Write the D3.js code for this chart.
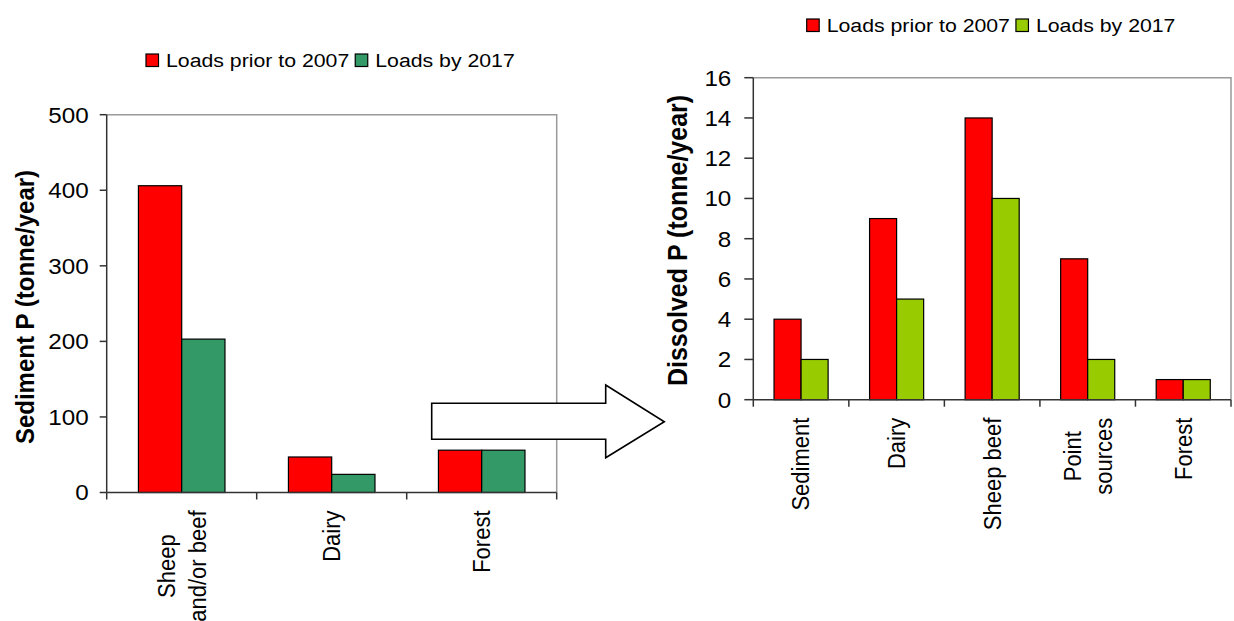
<!DOCTYPE html>
<html><head><meta charset="utf-8">
<script src="https://cdn.jsdelivr.net/npm/d3@7"></script>
<style>body{margin:0;background:#fff}svg{display:block;font-family:"Liberation Sans",Arial,sans-serif}</style>
</head><body><svg id="c" width="1234" height="621"></svg>
<script>
// ---- data ----
const seriesNames = ["Loads prior to 2007", "Loads by 2017"];
const sedCategories = [["Sheep", "and/or beef"], ["Dairy"], ["Forest"]];
const sedPrior = [406, 47, 56];
const sedBy2017 = [203, 24, 56];
const sedTicks = [0, 100, 200, 300, 400, 500];
const disCategories = [["Sediment"], ["Dairy"], ["Sheep beef"], ["Point", "sources"], ["Forest"]];
const disPrior = [4, 9, 14, 7, 1];
const disBy2017 = [2, 5, 10, 2, 1];
const disTicks = [0, 2, 4, 6, 8, 10, 12, 14, 16];

const svg = d3.select("#c");
const SX = 1.1;
const LSX = 1.12;

function drawChart(cfg) {
  const g = svg.append("g");
  const idx = d3.range(cfg.categories.length);
  const x = d3.scaleBand().domain(idx).range([cfg.left, cfg.right]).paddingInner(cfg.pad).paddingOuter(cfg.pad / 2);
  const xs = d3.scaleBand().domain([0, 1]).range([0, x.bandwidth()]);
  const y = d3.scaleLinear().domain([0, d3.max(cfg.ticks)]).range([cfg.bottom, cfg.top]);
  const step = x.step();

  // border (top/right)
  g.append("path").attr("d", `M${cfg.left},${y(d3.max(cfg.ticks))}H${cfg.right}V${cfg.bottom}`)
    .attr("fill", "none").attr("stroke", "#999").attr("stroke-width", 1.5);

  // bars
  const series = [cfg.s1, cfg.s2];
  series.forEach((vals, si) => {
    g.selectAll(null).data(vals).enter().append("rect")
      .attr("x", (d, i) => x(i) + xs(si))
      .attr("y", d => y(d))
      .attr("width", xs.bandwidth())
      .attr("height", d => y(0) - y(d))
      .attr("fill", cfg.colors[si])
      .attr("stroke", "#000").attr("stroke-width", 1.2);
  });

  // y axis
  g.append("line").attr("x1", cfg.left).attr("x2", cfg.left).attr("y1", y(d3.max(cfg.ticks))).attr("y2", cfg.bottom)
    .attr("stroke", "#333").attr("stroke-width", 1.5);
  cfg.ticks.forEach(t => {
    g.append("line").attr("x1", cfg.left - cfg.tickLen).attr("x2", cfg.left).attr("y1", y(t)).attr("y2", y(t))
      .attr("stroke", "#333").attr("stroke-width", 1.5);
    g.append("text").attr("transform", `translate(${cfg.left - cfg.labelGap},${y(t)}) scale(${SX},1)`)
      .attr("text-anchor", "end").attr("dy", "0.36em").attr("font-size", 22).attr("fill", "#000").text(t);
  });

  // x axis
  g.append("line").attr("x1", cfg.left).attr("x2", cfg.right).attr("y1", cfg.bottom).attr("y2", cfg.bottom)
    .attr("stroke", "#333").attr("stroke-width", 1.5);
  d3.range(cfg.categories.length + 1).forEach(i => {
    const xx = cfg.left + i * step;
    g.append("line").attr("x1", xx).attr("x2", xx).attr("y1", cfg.bottom).attr("y2", cfg.bottom + 7)
      .attr("stroke", "#333").attr("stroke-width", 1.5);
  });

  // category labels
  cfg.categories.forEach((lines, i) => {
    const cx = x(i) + x.bandwidth() / 2;
    const n = lines.length;
    const nodes = lines.map((ln, li) => {
      const lx = cx + (li - (n - 1) / 2) * 31;
      return g.append("text").attr("font-size", 22).attr("text-anchor", "end")
        .attr("dominant-baseline", "central").attr("fill", "#000").text(ln).datum(lx);
    });
    const lens = nodes.map(t => t.node().getComputedTextLength());
    const maxLen = d3.max(lens);
    nodes.forEach((t, li) => {
      const off = (maxLen - lens[li]) / 2;
      t.attr("transform", `translate(${t.datum()},${cfg.bottom + 18 + off}) scale(${SX},1) rotate(-90)`);
    });
  });

  // y title
  g.append("text").attr("transform", `translate(${cfg.titleX},${cfg.titleY}) scale(${SX},1) rotate(-90)`)
    .attr("text-anchor", "middle").attr("dominant-baseline", "central")
    .attr("font-size", cfg.titleSize).attr("font-weight", "bold").attr("fill", "#000").text(cfg.title);

  // legend
  const lg = g.append("g");
  let lx = cfg.legX;
  seriesNames.forEach((name, si) => {
    lg.append("rect").attr("x", lx).attr("y", cfg.legY - 12.5).attr("width", 12.5).attr("height", 12.5)
      .attr("fill", cfg.colors[si]).attr("stroke", "#000").attr("stroke-width", 1.2);
    const t = lg.append("text").attr("transform", `translate(${lx + 20},${cfg.legY}) scale(${LSX},1)`)
      .attr("font-size", 19).attr("fill", "#000").text(name);
    lx += 20 + t.node().getComputedTextLength() * LSX + 6;
  });
}

drawChart({
  left: 106.7, right: 556.7, top: 114.7, bottom: 492.5, pad: 0.423,
  ticks: sedTicks, categories: sedCategories, s1: sedPrior, s2: sedBy2017,
  colors: ["#ff0000", "#339966"], tickLen: 7, labelGap: 18,
  title: "Sediment P (tonne/year)", titleX: 25, titleY: 307, titleSize: 24,
  legX: 146, legY: 66.5
});

drawChart({
  left: 753.3, right: 1231, top: 77.7, bottom: 399.7, pad: 0.434,
  ticks: disTicks, categories: disCategories, s1: disPrior, s2: disBy2017,
  colors: ["#ff0000", "#99cc00"], tickLen: 9, labelGap: 22,
  title: "Dissolved P (tonne/year)", titleX: 677.5, titleY: 240.5, titleSize: 25,
  legX: 806.7, legY: 31.5
});

// block arrow between the charts
const arrowPts = [[431.7, 403.3], [605.7, 403.3], [605.7, 385], [664.3, 421.7], [605.7, 457.7], [605.7, 439.3], [431.7, 439.3]];
svg.append("path").attr("d", d3.line()(arrowPts) + "Z")
  .attr("fill", "#fff").attr("stroke", "#000").attr("stroke-width", 1.6).attr("stroke-linejoin", "miter");
</script>
</body></html>
